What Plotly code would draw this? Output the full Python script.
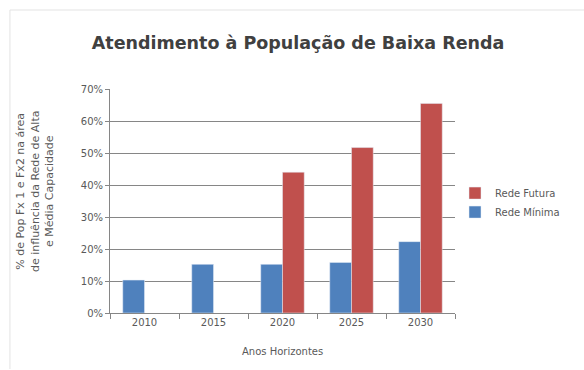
import plotly.graph_objects as go

anos = ["2010", "2015", "2020", "2025", "2030"]
rede_minima = [0.103, 0.152, 0.152, 0.158, 0.223]
rede_futura = [None, None, 0.44, 0.517, 0.655]

titulo = "Atendimento à População de Baixa Renda"
y_titulo = "% de Pop Fx 1 e Fx2 na área<br>de influência da Rede de Alta<br>e Média Capacidade"
x_titulo = "Anos Horizontes"

fig = go.Figure()
fig.add_trace(go.Bar(x=anos, y=rede_minima, name="Rede Mínima", marker_color="#4F81BD"))
fig.add_trace(go.Bar(x=anos, y=rede_futura, name="Rede Futura", marker_color="#C0504D"))

axis_col = "#868686"
txt_col = "#595959"
fnt = "DejaVu Sans, Verdana"
fig.update_layout(
    width=584, height=370,
    margin=dict(l=110, r=129, t=89, b=57),
    paper_bgcolor="white", plot_bgcolor="white",
    barmode="group", bargap=0.37, bargroupgap=0,
    font=dict(family=fnt, size=10, color=txt_col),
    title=dict(text="<b>" + titulo + "</b>", x=0.545, xref="paper", xanchor="center",
               y=1 - 43 / 370, yanchor="middle",
               font=dict(family=fnt, size=17.5, color="#404040")),
    legend=dict(x=1.0, y=0.6, xanchor="left", yanchor="top", traceorder="reversed",
                font=dict(family=fnt, size=10, color=txt_col), itemwidth=30,
                bgcolor="rgba(0,0,0,0)", tracegroupgap=6),
    showlegend=True,
)
fig.update_xaxes(type="category", showline=True, linecolor=axis_col, linewidth=1,
                 ticks="outside", tickson="boundaries", ticklen=5, tickcolor=axis_col,
                 showgrid=False, tickfont=dict(family=fnt, size=10, color=txt_col))
fig.update_yaxes(range=[0, 0.7], dtick=0.1, tickformat=".0%", showline=True,
                 linecolor=axis_col, linewidth=1, ticks="outside", ticklen=4,
                 tickcolor=axis_col, showgrid=True, gridcolor=axis_col, gridwidth=1,
                 zeroline=False, tickfont=dict(family=fnt, size=10, color=txt_col))

fig.add_annotation(text=y_titulo, xref="paper", yref="paper", x=-0.217, y=0.545,
                   textangle=-90, showarrow=False, xanchor="center", yanchor="middle",
                   font=dict(family=fnt, size=11, color=txt_col))
fig.add_annotation(text=x_titulo, xref="paper", yref="paper", x=0.5, y=-0.174,
                   showarrow=False, xanchor="center", yanchor="middle",
                   font=dict(family=fnt, size=10, color=txt_col))

# faint chart-area border
fig.add_shape(type="line", xref="paper", yref="paper", x0=-0.29, x1=1.4, y0=1.3527, y1=1.3527,
              line=dict(color="#e3e3e3", width=1))
fig.add_shape(type="line", xref="paper", yref="paper", x0=-0.29, x1=-0.29, y0=-0.25, y1=1.3527,
              line=dict(color="#e3e3e3", width=1))

fig.write_html("out.html")
